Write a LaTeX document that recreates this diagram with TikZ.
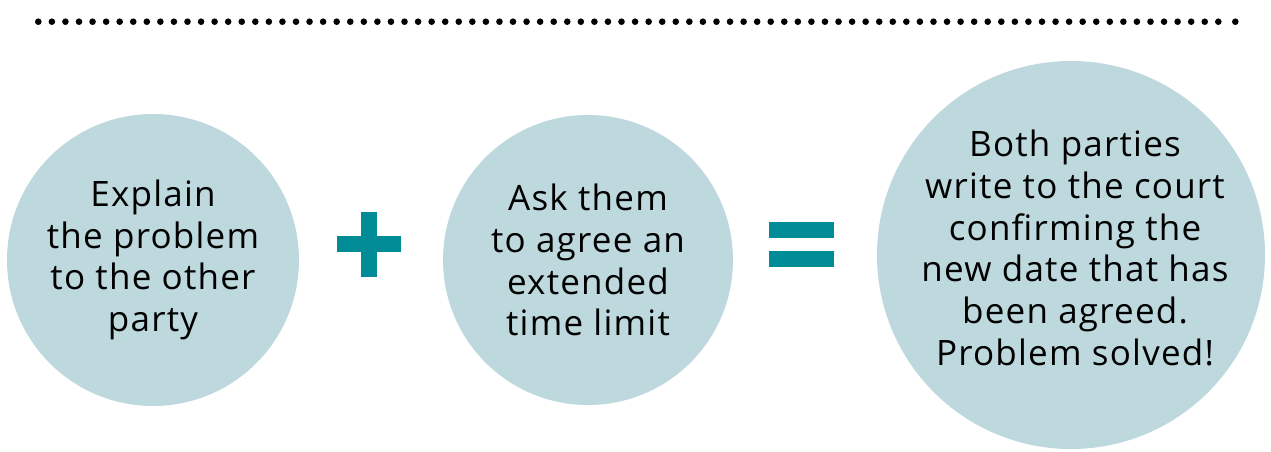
\documentclass[tikz,border=0pt]{standalone}
\usepackage{fontspec}
\setmainfont[LetterSpace=3.5]{Open Sans}
\definecolor{circ}{HTML}{BDD9DE}
\definecolor{tealx}{HTML}{008C96}
\begin{document}
\begin{tikzpicture}[x=1pt,y=-1pt,
  bubble/.style={circle, fill=circ, inner sep=0pt, minimum size=#1},
  lbl/.style={align=center, inner sep=0pt, text=black, font=\fontsize{35}{41.8}\selectfont},
  sign/.style={fill=tealx},
  dot/.style={fill=black}]
\useasboundingbox (0,0) rectangle (1271,452);
\foreach \i in {0,...,87} \fill[dot] ({38.3+\i*13.5632},21.7) circle[radius=3.3];
\fill[dot] (1235.3,21.7) circle[radius=3.3];
\node[bubble=292pt] (c1) at (153,260) {};
\node[bubble=290pt] (c2) at (588,260) {};
\node[bubble=388pt] (c3) at (1071,255) {};
\node[lbl] (t1) at (153,260) {Explain\\the problem\\to the other\\party};
\node[lbl] (t2) at (588,260) {Ask them\\to agree an\\extended\\time limit};
\node[lbl] (t3) at (1075,248) {Both parties\\write to the court\\confirming the\\new date that has\\been agreed.\\Problem solved!};
\fill[sign] (360.7,211.7) rectangle (377,276.7);
\fill[sign] (336.7,236) rectangle (401.3,252.3);
\fill[sign] (769.3,221.7) rectangle (834.3,237.7);
\fill[sign] (769.3,251) rectangle (834.3,267.3);
\end{tikzpicture}
\end{document}
